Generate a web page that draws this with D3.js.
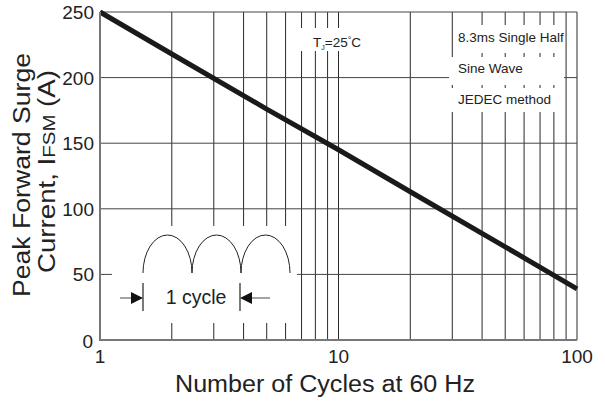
<!DOCTYPE html>
<html>
<head>
<meta charset="utf-8">
<script src="https://cdn.jsdelivr.net/npm/d3@7"></script>
<style>
  body { margin: 0; background: #fff; }
  text { font-family: "Liberation Sans", Arial, sans-serif; fill: #222; }
</style>
</head>
<body>
<div id="board"></div>
<script>
// data
const cycles = [1, 2, 5, 10, 20, 50, 100];
const current = [250, 218, 176, 145, 113, 71, 39];
const yTicks = [0, 50, 100, 150, 200, 250];
const xTickLabels = [1, 10, 100];
const xGrid = [2, 3, 4, 5, 6, 7, 8, 9, 10, 20, 30, 40, 50, 60, 70, 80, 90, 100];
const noteLines = ["8.3ms Single Half", "Sine Wave", "JEDEC method"];

const width = 605, height = 403;
const marginLeft = 100, marginRight = 28, marginTop = 12, marginBottom = 63;

const x = d3.scaleLog()
    .domain([1, 100])
    .range([marginLeft, width - marginRight]);
const y = d3.scaleLinear()
    .domain([0, 250])
    .range([height - marginBottom, marginTop]);

const svg = d3.create("svg")
    .attr("width", width)
    .attr("height", height);

// vertical grid
svg.append("g")
  .selectAll("line")
  .data(xGrid)
  .join("line")
    .attr("x1", d => x(d)).attr("x2", d => x(d))
    .attr("y1", y(0)).attr("y2", y(250))
    .attr("stroke", "#2a2a2a")
    .attr("stroke-width", 1);

// horizontal grid
svg.append("g")
  .selectAll("line")
  .data(yTicks.filter(d => d > 0))
  .join("line")
    .attr("x1", x(1)).attr("x2", x(100))
    .attr("y1", d => y(d)).attr("y2", d => y(d))
    .attr("stroke", "#444")
    .attr("stroke-width", 1);

// white patches behind annotations
const patches = [
  [296, 28, 64, 23],
  [453, 25, 112, 28],
  [449, 57, 115, 28],
  [449, 88, 115, 24],
  [112, 226, 185, 97]
];
svg.append("g")
  .selectAll("rect")
  .data(patches)
  .join("rect")
    .attr("x", d => d[0]).attr("y", d => d[1])
    .attr("width", d => d[2]).attr("height", d => d[3])
    .attr("fill", "#fff");

// surge curve
const pts = cycles.map((c, i) => [c, current[i]]);
svg.append("path")
    .datum(pts)
    .attr("fill", "none")
    .attr("stroke", "#1a1a1a")
    .attr("stroke-width", 5)
    .attr("d", d3.line().x(d => x(d[0])).y(d => y(d[1])));

// axes lines
svg.append("line")
    .attr("x1", x(1)).attr("x2", x(1))
    .attr("y1", y(0) + 1).attr("y2", y(250))
    .attr("stroke", "#777").attr("stroke-width", 2);
svg.append("line")
    .attr("x1", x(1)).attr("x2", x(100))
    .attr("y1", y(0)).attr("y2", y(0))
    .attr("stroke", "#777").attr("stroke-width", 2);

// y tick labels
svg.append("g")
  .selectAll("text")
  .data(yTicks)
  .join("text")
    .attr("x", d => d === 0 ? 93 : 94)
    .attr("y", d => d === 0 ? y(d) + 8 : y(d) + 7)
    .attr("text-anchor", "end")
    .attr("font-size", 19)
    .text(d => d);

// x tick labels
svg.append("g")
  .selectAll("text")
  .data(xTickLabels)
  .join("text")
    .attr("x", d => x(d))
    .attr("y", 363)
    .attr("text-anchor", "middle")
    .attr("font-size", 19)
    .text(d => d);

// axis titles
svg.append("text")
    .attr("x", 175)
    .attr("y", 392)
    .attr("font-size", 23)
    .attr("textLength", 300)
    .attr("lengthAdjust", "spacingAndGlyphs")
    .text("Number of Cycles at 60 Hz");

const yl = svg.append("g")
    .attr("transform", "rotate(-90)");
yl.append("text")
    .attr("x", -297).attr("y", 30)
    .attr("font-size", 23)
    .attr("textLength", 244)
    .attr("lengthAdjust", "spacingAndGlyphs")
    .text("Peak Forward Surge");
const l2 = yl.append("text")
    .attr("x", -273).attr("y", 55)
    .attr("font-size", 23)
    .attr("textLength", 203)
    .attr("lengthAdjust", "spacingAndGlyphs");
l2.append("tspan").text("Current, I");
l2.append("tspan").attr("font-size", 17).text("FSM");
l2.append("tspan").text(" (A)");

// Tj label
const tj = svg.append("text")
    .attr("x", 313).attr("y", 47)
    .attr("font-size", 13.5);
tj.append("tspan").text("T");
tj.append("tspan").attr("font-size", 7).attr("dy", 3).text("J");
tj.append("tspan").attr("dy", -3).text("=25");
tj.append("tspan").attr("font-size", 9).attr("dy", -4).text("°");
tj.append("tspan").attr("dy", 4).text("C");

// note text
svg.append("g")
  .selectAll("text")
  .data(noteLines)
  .join("text")
    .attr("x", 458)
    .attr("y", (d, i) => 42 + i * 31)
    .attr("font-size", 13.5)
    .text(d => d);

// one-cycle sketch
const arch = svg.append("g").attr("fill", "none").attr("stroke", "#222").attr("stroke-width", 1);
[143, 192, 241].forEach(x0 => {
  arch.append("path")
      .attr("d", `M${x0},273 A24.5,38 0 0 1 ${x0 + 49},273`);
});
const mk = svg.append("g").attr("stroke", "#222").attr("stroke-width", 1.2);
mk.append("line").attr("x1", 143).attr("x2", 143).attr("y1", 283).attr("y2", 311);
mk.append("line").attr("x1", 240).attr("x2", 240).attr("y1", 283).attr("y2", 311);
svg.append("line").attr("x1", 120).attr("x2", 132).attr("y1", 298).attr("y2", 298)
    .attr("stroke", "#666").attr("stroke-width", 1.2);
svg.append("line").attr("x1", 252).attr("x2", 270).attr("y1", 298).attr("y2", 298)
    .attr("stroke", "#666").attr("stroke-width", 1.2);
svg.append("path").attr("d", "M143,298 L131,292 L131,304 Z").attr("fill", "#111");
svg.append("path").attr("d", "M240,298 L252,292 L252,304 Z").attr("fill", "#111");
svg.append("text")
    .attr("x", 196).attr("y", 304)
    .attr("text-anchor", "middle")
    .attr("font-size", 19.5)
    .text("1 cycle");

document.getElementById("board").append(svg.node());
</script>
</body>
</html>
